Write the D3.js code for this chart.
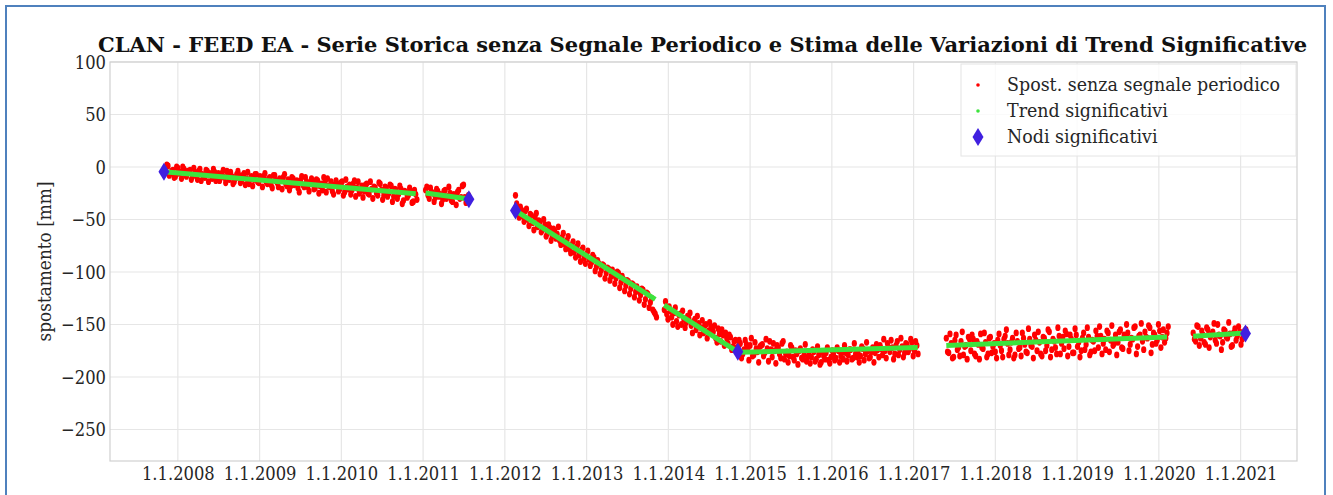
<!DOCTYPE html>
<html><head><meta charset="utf-8">
<script src="https://cdn.jsdelivr.net/npm/d3@7"></script>
<style>body{margin:0;background:#fff;}svg{display:block;}</style>
</head><body>
<svg id="c" width="1333" height="495"></svg>
<script>
// ---- data ----
const title = "CLAN - FEED EA - Serie Storica senza Segnale Periodico e Stima delle Variazioni di Trend Significative";
const yLabel = "spostamento [mm]";
const xTickYears = [2008,2009,2010,2011,2012,2013,2014,2015,2016,2017,2018,2019,2020,2021];
const xTickLabels = ["1.1.2008","1.1.2009","1.1.2010","1.1.2011","1.1.2012","1.1.2013","1.1.2014","1.1.2015","1.1.2016","1.1.2017","1.1.2018","1.1.2019","1.1.2020","1.1.2021"];
const yTicks = [-250,-200,-150,-100,-50,0,50,100];
const legendLabels = ["Spost. senza segnale periodico","Trend significativi","Nodi significativi"];

// red series: segments sampled every 0.03 yr from a start date (two interleaved passes)
const redStep = 0.03;
const redStarts = [2007.85, 2011.03, 2012.13, 2013.95, 2014.85, 2017.40, 2020.42];
const redStarts2 = [2007.865, 2011.045, 2012.145, 2013.965, 2014.865, 2017.415, 2020.435];
const redA = [-2,1,-6,-3,-9,-1,-5,0,-7,-4, -3,-9,-5,-12,-2,-7,-10,-4,-6,-11, -5,-8,-13,-6,-10,-4,-12,-9,-14,-7,
  -8,-13,-6,-11,-16,-9,-12,-7,-15,-10, -9,-14,-11,-17,-8,-13,-19,-12,-10,-16, -12,-18,-11,-15,-20,-13,-17,-10,-19,-15,
  -14,-20,-13,-18,-22,-15,-11,-19,-23,-17, -16,-21,-14,-24,-19,-17,-22,-13,-20,-25, -18,-23,-16,-26,-21,-19,-25,-15,-22,-27,
  -20,-25,-18,-28,-22,-26,-21,-32,-24,-27, -23,-33,-26];
const redA2 = [2,-8,-4,-10,0,-6,-11,-2,-9,-5, -12,-1,-8,-4,-13,-9,-3,-14,-7,-2, -13,-6,-10,-3,-15,-8,-5,-16,-11,-4,
  -15,-8,-17,-5,-12,-18,-7,-14,-9,-19, -6,-16,-10,-20,-8,-15,-11,-21,-7,-18, -22,-10,-17,-13,-24,-9,-19,-14,-23,-11,
  -21,-12,-25,-16,-10,-24,-18,-14,-26,-13, -23,-15,-27,-12,-21,-26,-16,-28,-14,-22, -29,-17,-25,-14,-30,-20,-27,-16,-31,-19,
  -28,-17,-33,-21,-30,-18,-35,-23,-29,-20, -34,-22,-31];
const redB = [-22,-27,-20,-25,-29,-23,-26,-31,-22,-28,-25,-33,-27,-24,-30,-18,-29,-32];
const redB2 = [-19,-30,-24,-33,-21,-28,-35,-23,-30,-19,-32,-26,-36,-22,-29,-17,-34,-27];
const redC1 = [-27,-44,-38,-47,-42,-50,-45,-53,-48,-57, -52,-60,-55,-63,-58,-66,-61,-64,-70,-67,
  -73,-70,-78,-74,-81,-76,-84,-79,-87,-83, -88,-91,-86,-95,-92,-98,-94,-101,-97,-104,
  -103,-106,-101,-110,-107,-113,-109,-116,-112,-119, -118,-122,-117,-126,-121,-129,-136,-140];
const redC1b = [-35,-48,-41,-52,-40,-56,-46,-60,-44,-51, -62,-50,-66,-55,-70,-59,-68,-57,-74,-63,
  -78,-66,-82,-71,-86,-73,-90,-77,-92,-80, -94,-84,-99,-89,-102,-93,-106,-96,-108,-98,
  -111,-100,-115,-104,-118,-108,-121,-111,-124,-114, -127,-116,-131,-120,-134,-125,-138,-143];
const redC2 = [-136,-140,-133,-143,-139,-147,-141,-150,-145,-148, -144,-151,-147,-155,-149,-153,-158,-150,-156,-152,
  -157,-163,-154,-166,-160,-158,-168,-162,-171,-165,-174];
const redC2b = [-128,-145,-137,-150,-134,-152,-140,-137,-153,-142, -139,-158,-145,-142,-160,-146,-151,-163,-148,-155,
  -151,-167,-159,-155,-170,-163,-160,-174,-166,-172,-169];
const redD = [-172,-168,-178,-165,-174,-170,-180,-167,-176,-171, -169,-177,-173,-166,-181,-175,-170,-178,-168,-183,
  -176,-180,-172,-184,-178,-175,-182,-179,-185,-177, -181,-176,-183,-179,-186,-180,-177,-184,-181,-178,
  -182,-175,-180,-183,-177,-179,-174,-182,-178,-176, -180,-173,-178,-175,-181,-172,-177,-174,-170,-179,
  -175,-168,-176,-172,-178,-166,-174,-171,-177,-169, -173,-167,-175,-170];
const redD2 = [-165,-182,-174,-169,-184,-163,-179,-173,-186,-170, -180,-164,-185,-174,-168,-187,-172,-182,-166,-178,
  -186,-170,-181,-175,-188,-173,-183,-169,-181,-187, -174,-185,-171,-188,-176,-183,-172,-187,-175,-184,
  -172,-186,-177,-170,-185,-174,-183,-168,-181,-186, -171,-184,-167,-182,-176,-186,-169,-181,-173,-164,
  -182,-172,-165,-183,-170,-179,-163,-181,-168,-176, -164,-180,-166,-178];
const redE = [-163,-177,-168,-181,-160,-172,-166,-179,-170,-162, -175,-164,-180,-169,-159,-173,-167,-178,-162,-171,
  -176,-165,-170,-181,-161,-168,-174,-163,-179,-166, -172,-158,-169,-177,-164,-171,-160,-175,-167,-180,
  -163,-170,-157,-174,-166,-178,-161,-168,-173,-159, -171,-164,-177,-160,-167,-175,-158,-169,-162,-176,
  -166,-156,-172,-161,-168,-174,-158,-165,-170,-160, -167,-155,-173,-162,-158,-169,-164,-152,-171,-160,
  -166,-157,-163,-153,-169,-160,-165,-156,-162,-167,-158];
const redE2 = [-176,-159,-182,-165,-174,-180,-157,-171,-183,-164, -160,-178,-166,-183,-172,-158,-181,-163,-177,-168,
  -182,-159,-175,-164,-155,-179,-167,-182,-158,-173, -180,-163,-176,-154,-170,-182,-165,-157,-178,-162,
  -175,-155,-181,-164,-172,-153,-178,-162,-156,-180, -160,-177,-154,-171,-181,-163,-174,-153,-179,-165,
  -175,-161,-152,-178,-164,-156,-176,-151,-168,-179, -157,-172,-160,-150,-175,-163,-153,-178,-161,-149,
  -174,-162,-151,-177,-158,-168,-150,-172,-155,-163,-152];
const redF = [-158,-166,-152,-163,-160,-169,-155,-162,-157,-165,-150,-161,-167,-156,-163,-159,-170,-154,-161,-157,-164,-156];
const redF2 = [-164,-151,-170,-156,-167,-153,-172,-159,-149,-168,-160,-174,-155,-162,-148,-171,-158,-165,-152,-169,-160,-155];
const redSegments = [redA, redB, redC1, redC2, redD, redE, redF];
const redSegments2 = [redA2, redB2, redC1b, redC2b, redD2, redE2, redF2];

// green trend segments
const trendStartYear = [2007.83, 2011.03, 2012.13, 2013.95, 2014.85, 2017.40, 2020.42];
const trendStartVal  = [-4.5, -24.7, -41.5, -131.5, -176.5, -170, -161.3];
const trendEndYear   = [2010.91, 2011.56, 2013.84, 2014.85, 2017.05, 2020.10, 2021.06];
const trendEndVal    = [-25.5, -30.5, -126, -176, -172, -162, -158.2];

// significant nodes
const nodeYears  = [2007.83, 2011.56, 2012.13, 2014.85, 2021.06];
const nodeValues = [-4.5, -30.7, -41.5, -176, -158.5];

// ---- drawing ----
const svg = d3.select("#c");
const L = 110, R = 1297, T = 62, B = 461;
const x = d3.scaleLinear().domain([2007.17, 2021.69]).range([L, R]);
const y = d3.scaleLinear().domain([-280, 100]).range([B, T]);
const serif = "'DejaVu Serif', serif";
const txt = "#262626";
function squeeze(sel, ratio) {
  sel.each(function () {
    const w = this.getComputedTextLength();
    d3.select(this).attr("textLength", w * ratio).attr("lengthAdjust", "spacingAndGlyphs");
  });
}

// outer blue frame
svg.append("rect").attr("x", 6).attr("y", 6).attr("width", 1319).attr("height", 500)
  .attr("fill", "none").attr("stroke", "#4f81bd").attr("stroke-width", 2);

// grid
const g = svg.append("g");
g.selectAll("line.vg").data(xTickYears).enter().append("line")
  .attr("x1", d => x(d)).attr("x2", d => x(d)).attr("y1", T).attr("y2", B)
  .attr("stroke", "#e6e6e6").attr("stroke-width", 1.2);
g.selectAll("line.hg").data(yTicks).enter().append("line")
  .attr("x1", L).attr("x2", R).attr("y1", d => y(d)).attr("y2", d => y(d))
  .attr("stroke", "#e6e6e6").attr("stroke-width", 1.2);
svg.append("rect").attr("x", L).attr("y", T).attr("width", R - L).attr("height", B - T)
  .attr("fill", "none").attr("stroke", "#d0d0d0").attr("stroke-width", 1.2);

// axes
const yAxis = d3.axisLeft(y).tickValues(yTicks).tickSize(0).tickPadding(4);
const ya = svg.append("g").attr("transform", `translate(${L},0)`).call(yAxis);
ya.select(".domain").remove();
ya.selectAll("text").attr("font-family", serif).attr("font-size", 19).attr("fill", txt);
squeeze(ya.selectAll("text"), 0.86);

const xAxis = d3.axisBottom(x).tickValues(xTickYears).tickSize(0).tickPadding(6)
  .tickFormat((d, i) => xTickLabels[i]);
const xa = svg.append("g").attr("transform", `translate(0,${B})`).call(xAxis);
xa.select(".domain").remove();
xa.selectAll("text").attr("font-family", serif).attr("font-size", 19).attr("fill", txt);
squeeze(xa.selectAll("text"), 0.86);

// y label
svg.append("text").attr("transform", `translate(51,${(T + B) / 2}) rotate(-90)`)
  .attr("text-anchor", "middle").attr("font-family", serif).attr("font-size", 18)
  .attr("fill", txt).attr("textLength", 160).attr("lengthAdjust", "spacingAndGlyphs").text(yLabel);

// title
svg.append("text").attr("x", 98).attr("y", 52).attr("font-family", serif)
  .attr("font-weight", "bold").attr("font-size", 20).attr("fill", "#111")
  .attr("textLength", 1209).attr("lengthAdjust", "spacingAndGlyphs").text(title);

// red points
const redPts = [];
redSegments.forEach((vals, s) => vals.forEach((v, i) => redPts.push([redStarts[s] + i * redStep, v])));
redSegments2.forEach((vals, s) => vals.forEach((v, i) => redPts.push([redStarts2[s] + i * redStep, v])));
svg.append("g").selectAll("ellipse").data(redPts).enter().append("ellipse")
  .attr("cx", d => x(d[0])).attr("cy", d => y(d[1])).attr("rx", 2.6).attr("ry", 3.4).attr("fill", "#f00");

// green trends
const trendData = trendStartYear.map((s, i) => [[s, trendStartVal[i]], [trendEndYear[i], trendEndVal[i]]]);
const line = d3.line().x(d => x(d[0])).y(d => y(d[1]));
svg.append("g").selectAll("path").data(trendData).enter().append("path")
  .attr("d", line).attr("stroke", "#3de33d").attr("stroke-width", 5).attr("fill", "none");

// nodes
const diamond = "M0,-9L5.5,0L0,9L-5.5,0Z";
svg.append("g").selectAll("path").data(nodeYears).enter().append("path")
  .attr("transform", (d, i) => `translate(${x(d)},${y(nodeValues[i])})`)
  .attr("d", diamond).attr("fill", "#4020e0");

// legend
const lg = svg.append("g");
lg.append("rect").attr("x", 961).attr("y", 64).attr("width", 335).attr("height", 92)
  .attr("fill", "#fff").attr("fill-opacity", 0.8).attr("stroke", "#e4e4e4").attr("stroke-width", 1);
const ly = [85, 111, 137];
lg.append("circle").attr("cx", 978).attr("cy", ly[0]).attr("r", 1.8).attr("fill", "#f00");
lg.append("circle").attr("cx", 978).attr("cy", ly[1]).attr("r", 1.8).attr("fill", "#3de33d");
lg.append("path").attr("transform", `translate(978,${ly[2]})`).attr("d", diamond).attr("fill", "#4020e0");
const lt = lg.selectAll("text").data(legendLabels).enter().append("text")
  .attr("x", 1007).attr("y", (d, i) => ly[i] + 6).attr("font-family", serif).attr("font-size", 18)
  .attr("fill", txt).text(d => d);
squeeze(lt, 0.97);
</script>
</body></html>
